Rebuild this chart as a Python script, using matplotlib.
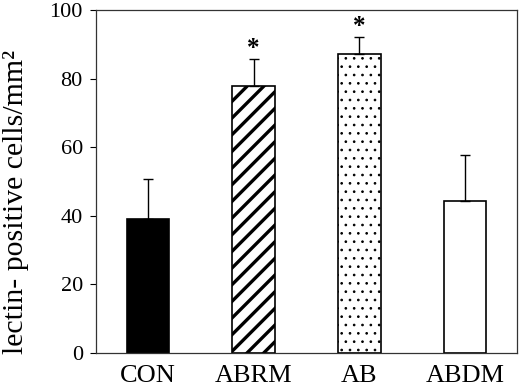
import matplotlib
matplotlib.use("Agg")
import matplotlib.pyplot as plt

categories = ["CON", "ABRM", "AB", "ABDM"]
means = [39.0, 77.8, 87.2, 44.4]
errors = [11.7, 8.0, 5.0, 13.3]
significant = [False, True, True, False]
yticks = [0, 20, 40, 60, 80, 100]

plt.rcParams['font.family'] = 'serif'
plt.rcParams['font.serif'] = ['Liberation Serif', 'Times New Roman', 'DejaVu Serif']

fig = plt.figure(figsize=(5.2, 3.91), dpi=100)
ax = fig.add_axes([0.1846, 0.0972, 0.8096, 0.8772])

x = list(range(len(categories)))
faces = ['black', 'white', 'white', 'white']
hatches = [None, '//', '..', None]
hatch_lw = [1.0, 2.4, 0.7, 1.0]
for xi, m, e, fc, h, hl in zip(x, means, errors, faces, hatches, hatch_lw):
    plt.rcParams['hatch.linewidth'] = hl
    bars = ax.bar(xi, m, width=0.40, color=fc, edgecolor='black', linewidth=1.2, hatch=h, zorder=2)
    for b in bars:
        try:
            b.set_hatch_linewidth(hl)
        except AttributeError:
            pass
    ax.errorbar(xi, m, yerr=[[0], [e]], fmt='none', ecolor='black', elinewidth=1.0,
                capsize=3.3, capthick=1.0, zorder=3)

for xi, m, e, s in zip(x, means, errors, significant):
    if s:
        ax.annotate('*', xy=(xi, m + e), xytext=(0, -1), textcoords='offset points',
                    ha='center', va='bottom', fontsize=18, fontweight='bold')

ax.set_xlim(-0.49, 3.49)
ax.set_ylim(0, 100)
ax.set_yticks(yticks)
ax.set_xticks(x)
ax.set_xticklabels(categories, fontsize=19)
ax.tick_params(axis='x', length=0, pad=9)
ax.tick_params(axis='y', direction='out', length=4.5, width=0.8, labelsize=16, pad=5)
for sp in ax.spines.values():
    sp.set_linewidth(0.9)
    sp.set_color('#333333')

ax.set_ylabel('lectin- positive cells/mm²', fontsize=21.5)
ax.yaxis.set_label_coords(-0.159, 0.439)

fig.savefig('out.png', dpi=100)
